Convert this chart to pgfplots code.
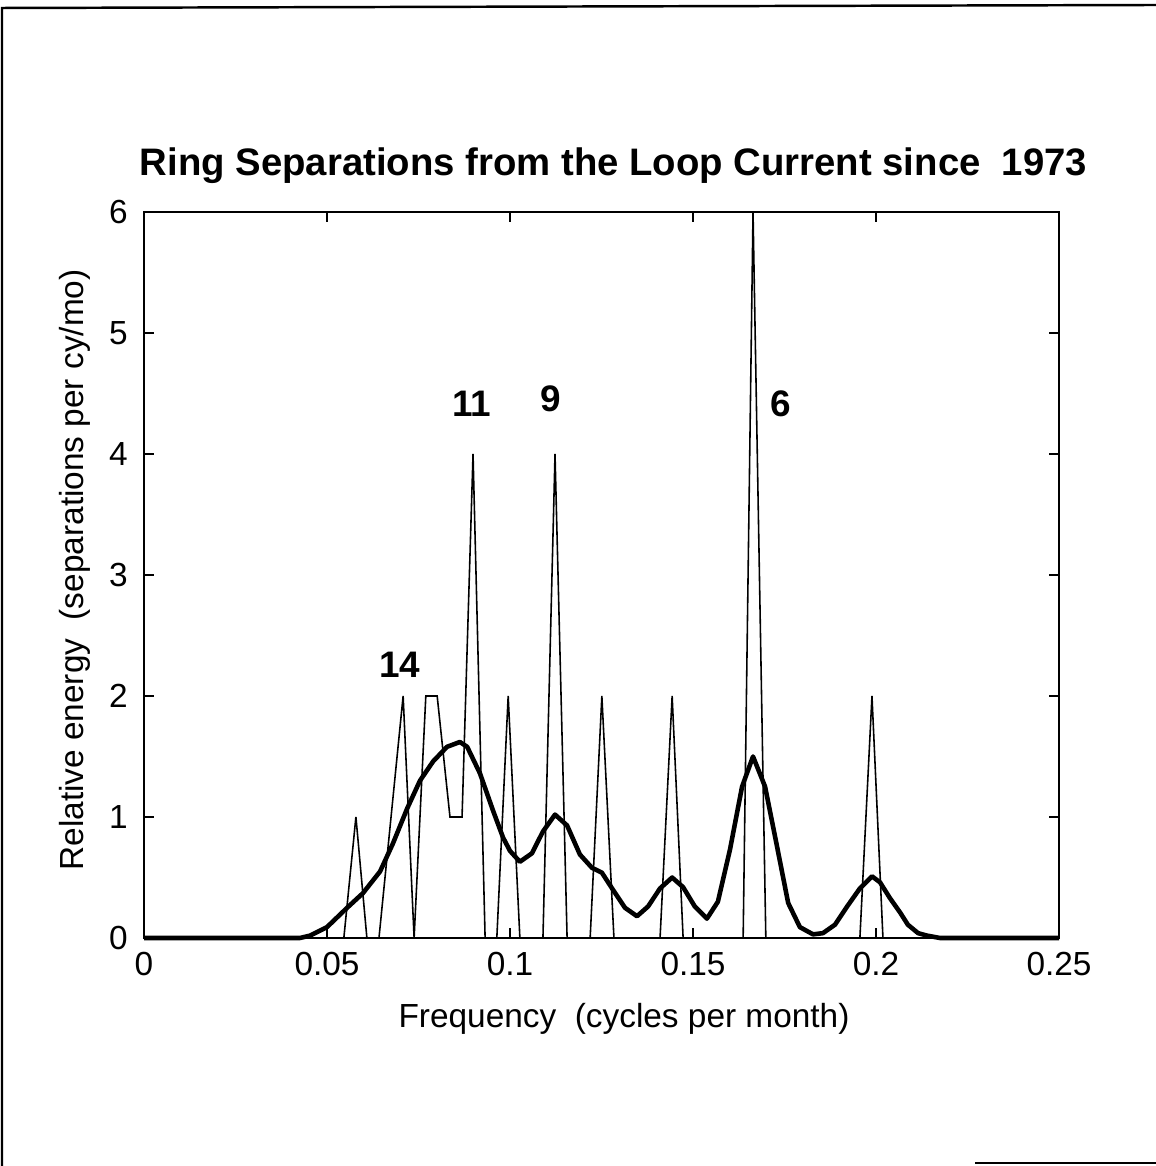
\documentclass[border=0pt]{standalone}
\usepackage{fontspec}
\setmainfont{Liberation Sans}
\usepackage{pgfplots}
\pgfplotsset{compat=1.18}
\begin{document}
\begin{tikzpicture}
\useasboundingbox (-1.44,-2.28) rectangle (10.12,9.38);
\draw[line width=0.7pt] (-1.42,-2.28) -- (-1.42,9.30) -- (10.12,9.33);
\draw[line width=0.7pt] (8.31,-2.25) -- (10.12,-2.25);
\begin{axis}[
  at={(0,0)}, anchor=south west, scale only axis,
  width=9.15cm, height=7.26cm,
  xmin=0, xmax=0.25, ymin=0, ymax=6,
  xtick={0,0.05,0.1,0.15,0.2,0.25},
  xticklabels={0,0.05,0.1,0.15,0.2,0.25},
  ytick={0,1,2,3,4,5,6},
  yticklabels={0,1,2,3,4,5,6},
  tick align=inside, major tick length=0.1cm,
  axis line style={line width=0.7pt},
  tick style={line width=0.6pt, black},
  ticklabel style={font=\fontsize{9.5}{11}\selectfont},
  /pgf/number format/assume math mode=true,
  yticklabel style={xshift=-0.04cm},
  xticklabel style={yshift=-0.02cm},
  clip=false,
]
\addplot[black, line width=0.45pt, line join=miter] coordinates {
(0,0) (0.0546,0) (0.0579,1) (0.0609,0) (0.0642,0) (0.0708,2) (0.0738,0)
(0.0770,2) (0.0801,2) (0.0836,1) (0.0869,1) (0.0899,4) (0.0932,0)
(0.0964,0) (0.0995,2) (0.1027,0) (0.1090,0) (0.1123,4) (0.1156,0)
(0.1219,0) (0.1251,2) (0.1284,0) (0.1410,0) (0.1443,2) (0.1473,0)
(0.1637,0) (0.1664,6) (0.1699,0) (0.1956,0) (0.1989,2) (0.2019,0) (0.25,0)
};
\addplot[black, line width=1.3pt, line join=round] coordinates {
(0,0) (0.0426,0) (0.0454,0.02) (0.0500,0.09) (0.0555,0.25) (0.0598,0.37)
(0.0645,0.55) (0.0680,0.78) (0.0719,1.07) (0.0754,1.30) (0.0790,1.46)
(0.0828,1.58) (0.0863,1.62) (0.0883,1.58) (0.0918,1.36) (0.0954,1.05)
(0.0981,0.83) (0.1000,0.72) (0.1027,0.63) (0.1060,0.70) (0.1090,0.88)
(0.1123,1.02) (0.1156,0.93) (0.1191,0.69) (0.1224,0.58) (0.1251,0.54)
(0.1281,0.40) (0.1314,0.25) (0.1347,0.18) (0.1377,0.26) (0.1410,0.41)
(0.1443,0.50) (0.1473,0.42) (0.1505,0.26) (0.1538,0.16) (0.1568,0.30)
(0.1601,0.73) (0.1634,1.25) (0.1664,1.50) (0.1697,1.25) (0.1730,0.75)
(0.1760,0.29) (0.1792,0.09) (0.1828,0.03) (0.1855,0.04) (0.1888,0.11)
(0.1921,0.26) (0.1956,0.41) (0.1989,0.51) (0.2011,0.46) (0.2038,0.33)
(0.2066,0.21) (0.2087,0.11) (0.2115,0.04) (0.2139,0.02) (0.2175,0) (0.25,0)
};
\node[font=\bfseries\fontsize{10.5}{12}\selectfont, anchor=base] at (axis cs:0.0699,2.157) {14};
\node[font=\bfseries\fontsize{10.5}{12}\selectfont, anchor=base] at (axis cs:0.0896,4.31) {11};
\node[font=\bfseries\fontsize{10.5}{12}\selectfont, anchor=base] at (axis cs:0.1111,4.35) {9};
\node[font=\bfseries\fontsize{10.5}{12}\selectfont, anchor=base] at (axis cs:0.1740,4.31) {6};
\end{axis}
\node[font=\bfseries\fontsize{10.9}{13}\selectfont, anchor=base] at (4.695,7.62) {Ring Separations from the Loop Current since\ \ 1973};
\node[font=\fontsize{9.5}{11}\selectfont, anchor=base] at (4.80,-0.89) {Frequency\ \ (cycles per month)};
\node[font=\fontsize{9.5}{11}\selectfont, anchor=base, rotate=90] at (-0.61,3.68) {Relative energy\ \ (separations per cy/mo)};
\end{tikzpicture}
\end{document}
